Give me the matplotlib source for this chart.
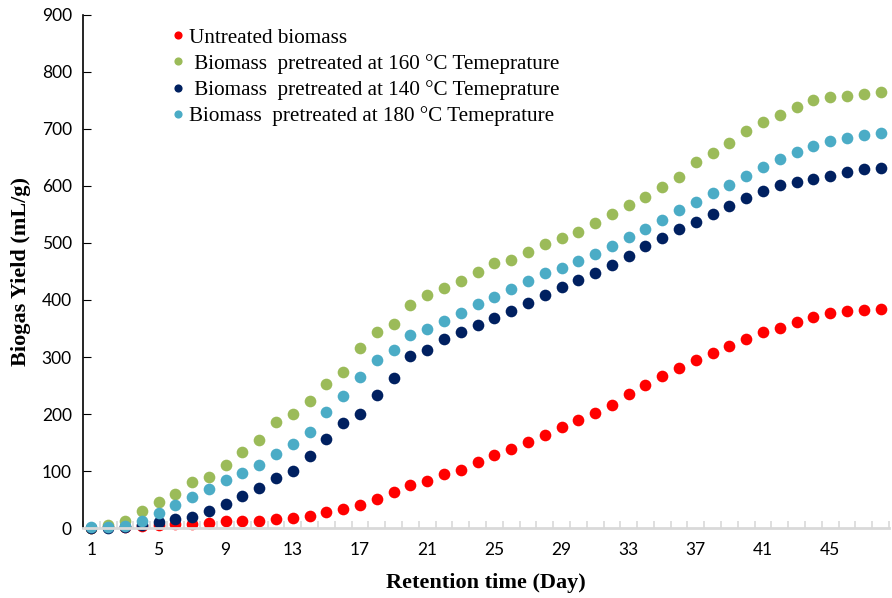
import numpy as np
import matplotlib.pyplot as plt

days = np.arange(1, 49)

untreated = [0, 1, 2, 4, 5, 6.5, 7, 9, 12, 12, 13, 15,
             17, 21, 29, 34, 40, 51, 64, 75, 83, 95, 101, 115,
             128, 139, 151, 164, 177, 189, 201, 215, 235, 251, 267, 281,
             295, 307, 319, 332, 344, 351, 362, 371, 377, 381, 382, 385]
temp_160 = [0, 5, 13, 30, 46, 60, 80, 89, 110, 134, 154, 186,
            200, 223, 253, 274, 315, 343, 358, 391, 408, 421, 434, 449,
            465, 471, 485, 498, 509, 520, 535, 551, 566, 581, 599, 615,
            642, 657, 675, 696, 712, 725, 739, 751, 756, 758, 762, 764]
temp_140 = [0, 0.5, 2, 5, 10, 15, 19, 30, 42, 56, 70, 87,
            100, 126, 156, 184, 200, 234, 264, 301, 313, 331, 344, 357,
            369, 381, 395, 408, 422, 435, 447, 461, 478, 495, 508, 524,
            536, 551, 565, 579, 592, 601, 607, 612, 618, 624, 629, 632]
temp_180 = [1, 2, 4, 13, 26, 40, 54, 69, 85, 97, 111, 130,
            147, 168, 203, 231, 265, 294, 313, 339, 350, 364, 378, 393,
            406, 420, 434, 447, 456, 468, 480, 495, 510, 525, 541, 557,
            572, 587, 601, 617, 633, 647, 660, 671, 679, 685, 689, 693]

series = [
    ('Untreated biomass', untreated, '#FF0000'),
    (' Biomass  pretreated at 160 \u00b0C Temeprature', temp_160, '#9BBB59'),
    (' Biomass  pretreated at 140 \u00b0C Temeprature', temp_140, '#002060'),
    ('Biomass  pretreated at 180 \u00b0C Temeprature', temp_180, '#4BACC6'),
]

fig = plt.figure(figsize=(8.92, 5.98), dpi=100)
ax = fig.add_axes([0.093, 0.117, 0.9036, 0.858])

for label, vals, color in series:
    ax.plot(days, vals, 'o', color=color, markersize=8.4, markeredgewidth=0,
            label=label, clip_on=False)

ax.set_xlim(0.5, 48.5)
ax.set_ylim(0, 900)
ax.set_yticks(np.arange(0, 901, 100))

ax.set_xticks(np.arange(1, 49, 4))
ax.set_xticks(np.arange(0.5, 48.6, 1), minor=True)
ax.tick_params(axis='x', which='major', length=0, pad=10)
ax.tick_params(axis='x', which='minor', direction='in', length=5,
               color='#D9D9D9', width=1.2)
ax.tick_params(axis='y', direction='in', length=6, color='black', pad=8)

for lab in ax.get_xticklabels() + ax.get_yticklabels():
    lab.set_family('Lato')
    lab.set_fontsize(12.5)

ax.spines['top'].set_visible(False)
ax.spines['right'].set_visible(False)
ax.spines['left'].set_color('black')
ax.spines['left'].set_linewidth(1.2)
ax.spines['bottom'].set_color('#D9D9D9')
ax.spines['bottom'].set_linewidth(2)

ax.set_xlabel('Retention time (Day)', family='Liberation Serif',
              fontsize=16, fontweight='bold', labelpad=11)
ax.set_ylabel('Biogas Yield (mL/g)', family='Liberation Serif',
              fontsize=16, fontweight='bold', labelpad=8)

leg = ax.legend(loc='upper left', bbox_to_anchor=(0.088, 1.012), frameon=False,
                prop={'family': 'Liberation Serif', 'size': 15.2},
                handlelength=0.5, handletextpad=0.25, labelspacing=0.3,
                markerscale=0.7)

fig.savefig('out.png', dpi=100)
